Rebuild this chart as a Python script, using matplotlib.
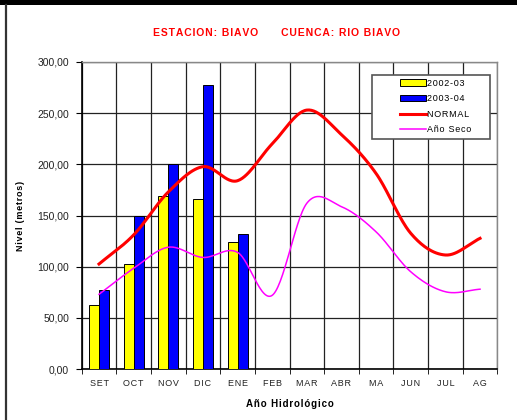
import numpy as np
import matplotlib
matplotlib.use("Agg")
import matplotlib.pyplot as plt
from matplotlib.lines import Line2D
from matplotlib.patches import Rectangle

plt.rcParams['font.family'] = ['Liberation Sans', 'DejaVu Sans']

# data
meses = ['SET', 'OCT', 'NOV', 'DIC', 'ENE', 'FEB', 'MAR', 'ABR', 'MA', 'JUN', 'JUL', 'AG']
serie_0203 = [62.2, 102.3, 169.0, 165.8, 123.8]
serie_0304 = [77.5, 149.8, 200.6, 277.5, 132.2]
normal = [102.6, 131.0, 173.0, 197.7, 184.0, 220.0, 253.0, 229.0, 191.0, 132.6, 111.4, 127.7]
ano_seco = [73.0, 98.4, 119.0, 109.0, 114.0, 72.0, 162.0, 158.6, 134.0, 95.0, 75.5, 78.0]
y_ticks = [0, 50, 100, 150, 200, 250, 300]


def spaced(s):
    # mimic the wide letter spacing of the original
    return "\u200a".join(s)


def smooth(y, n=30):
    # Catmull-Rom style smoothing, like a smoothed spreadsheet line
    y = np.asarray(y, float)
    x = np.arange(len(y), dtype=float)
    p = np.concatenate([[2 * y[0] - y[1]], y, [2 * y[-1] - y[-2]]])
    xs, ys = [], []
    for i in range(len(y) - 1):
        p0, p1, p2, p3 = p[i], p[i + 1], p[i + 2], p[i + 3]
        t = np.linspace(0, 1, n, endpoint=False)
        yy = 0.5 * ((2 * p1) + (-p0 + p2) * t + (2 * p0 - 5 * p1 + 4 * p2 - p3) * t ** 2
                    + (-p0 + 3 * p1 - 3 * p2 + p3) * t ** 3)
        xs.append(x[i] + t)
        ys.append(yy)
    xs.append([x[-1]])
    ys.append([y[-1]])
    return np.concatenate(xs), np.concatenate(ys)


fig = plt.figure(figsize=(5.17, 4.2), dpi=100)
ax = fig.add_axes([0.158, 0.1214, 0.804, 0.731])

# frame decorations of the original sheet
fig.add_artist(Rectangle((0, 0.988), 1, 0.012, transform=fig.transFigure,
                         facecolor='black', edgecolor='none'))
fig.add_artist(Line2D([0.0125, 0.0125], [0, 0.988], transform=fig.transFigure,
                      color='#333333', lw=1.6))

bw = 0.29
xb = np.arange(len(serie_0203))
b1 = ax.bar(xb - bw / 2, serie_0203, bw, color='yellow', edgecolor='black', lw=0.7,
            label=spaced('2002-03'), zorder=3)
b2 = ax.bar(xb + bw / 2, serie_0304, bw, color='#0000ff', edgecolor='black', lw=0.7,
            label=spaced('2003-04'), zorder=3)

sx, sy = smooth(normal)
l1, = ax.plot(sx, sy, color='red', lw=2.2, label=spaced('NORMAL'), zorder=4)
sx, sy = smooth(ano_seco)
l2, = ax.plot(sx, sy, color='#ff00ff', lw=1.1, label=spaced('Año Seco'), zorder=4)

ax.set_xlim(-0.5, len(meses) - 0.5)
ax.set_ylim(0, 300)
ax.set_yticks(y_ticks)
ax.set_yticklabels([f"{v:.2f}".replace('.', ',') for v in y_ticks],
                   fontsize=7.5, color='#222222')
ax.set_xticks(np.arange(len(meses)))
ax.set_xticklabels([spaced(m) for m in meses], fontsize=6.5, color='#222222')
ax.set_xticks(np.arange(len(meses) + 1) - 0.5, minor=True)
ax.tick_params(axis='x', which='major', length=0, pad=7)
ax.tick_params(axis='x', which='minor', length=3.5, direction='out', color='black')
ax.tick_params(axis='y', length=4, direction='out', pad=5)

ax.grid(axis='y', color='#222222', lw=0.9, zorder=1)
ax.grid(axis='x', which='minor', color='#222222', lw=0.9, zorder=1)
ax.set_axisbelow(True)
for side in ['left', 'bottom']:
    ax.spines[side].set_color('black')
    ax.spines[side].set_linewidth(1.2)
for side in ['top', 'right']:
    ax.spines[side].set_color('#888888')
    ax.spines[side].set_linewidth(1.0)

ax.set_ylabel(spaced('Nivel (metros)'), fontsize=6.5, fontweight='bold', labelpad=9)
ax.set_xlabel(spaced('Año Hidrológico'), fontsize=7, fontweight='bold', labelpad=8)

fig.text(0.534, 0.922, spaced('ESTACION: BIAVO') + '        ' + spaced('CUENCA: RIO BIAVO'),
         color='red', fontsize=7.5, fontweight='bold', ha='center', va='center')

# legend box drawn separately so the handles can sit inset like the original
ax.add_patch(Rectangle((0.698, 0.749), 0.284, 0.209, transform=ax.transAxes,
                       facecolor='white', edgecolor='#555555', lw=1.2, zorder=5))
leg = ax.legend([b1, b2, l1, l2],
                [spaced('2002-03'), spaced('2003-04'), spaced('NORMAL'), spaced('Año Seco')],
                loc='upper left', bbox_to_anchor=(0.745, 0.975), fontsize=6.5,
                frameon=False, borderpad=0.5,
                handlelength=2.8, handletextpad=0.15, labelspacing=0.72)
leg.set_zorder(6)

fig.savefig('out.png', dpi=100)
